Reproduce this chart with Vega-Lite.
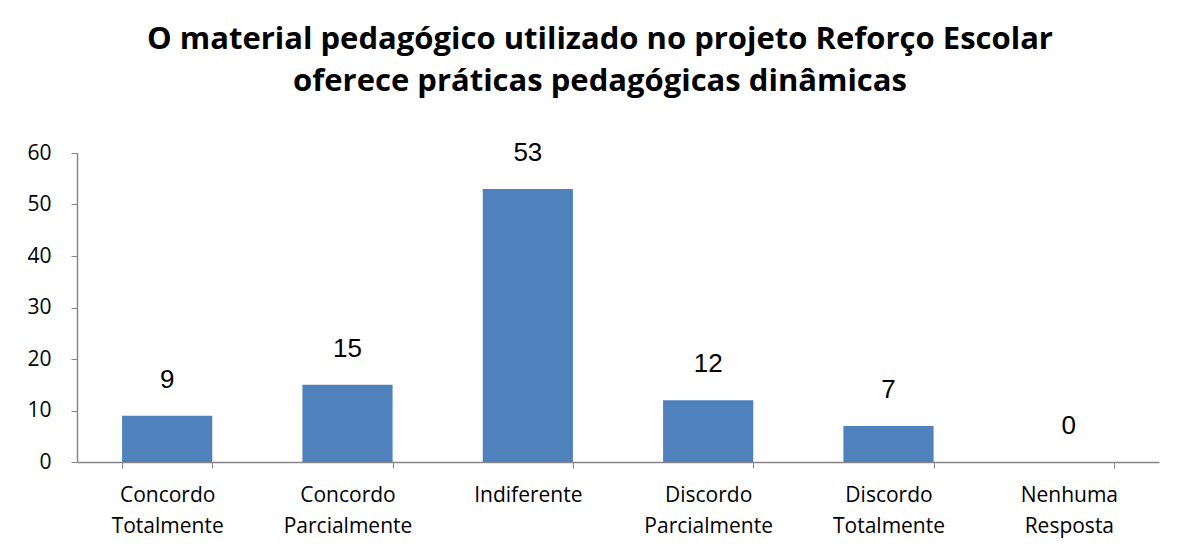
{
  "$schema": "https://vega.github.io/schema/vega-lite/v6.json",
  "width": 1082,
  "height": 309,
  "autosize": {"type": "none"},
  "padding": {"left": 77, "top": 153, "right": 25, "bottom": 93},
  "background": "white",
  "config": {"view": {"stroke": null}},
  "title": {
    "text": ["O material pedagógico utilizado no projeto Reforço Escolar", "oferece práticas pedagógicas dinâmicas"],
    "font": "Open Sans",
    "fontSize": 31,
    "fontWeight": "bold",
    "color": "#000000",
    "anchor": "middle",
    "dx": -18,
    "lineHeight": 42,
    "offset": 42
  },
  "data": {
    "values": [
      {"categoria": "Concordo Totalmente", "valor": 9},
      {"categoria": "Concordo Parcialmente", "valor": 15},
      {"categoria": "Indiferente", "valor": 53},
      {"categoria": "Discordo Parcialmente", "valor": 12},
      {"categoria": "Discordo Totalmente", "valor": 7},
      {"categoria": "Nenhuma Resposta", "valor": 0}
    ]
  },
  "encoding": {
    "x": {
      "field": "categoria",
      "type": "nominal",
      "sort": null,
      "scale": {"paddingInner": 0.5, "paddingOuter": 0.25},
      "axis": {
        "title": null,
        "labelAngle": 0,
        "labelExpr": "split(datum.label, ' ')",
        "labelFont": "Open Sans",
        "labelFontSize": 21,
        "labelColor": "#000000",
        "labelLineHeight": 31,
        "labelPadding": 16,
        "tickBand": "extent",
        "tickSize": 6,
        "tickColor": "#868686",
        "domainColor": "#868686",
        "domainWidth": 1.5
      }
    },
    "y": {
      "field": "valor",
      "type": "quantitative",
      "scale": {"domain": [0, 60]},
      "axis": {
        "title": null,
        "values": [0, 10, 20, 30, 40, 50, 60],
        "grid": false,
        "labelFont": "Open Sans",
        "labelFontSize": 21,
        "labelColor": "#000000",
        "labelPadding": 20,
        "tickSize": 6,
        "tickColor": "#868686",
        "domainColor": "#868686",
        "domainWidth": 1.5
      }
    }
  },
  "layer": [
    {"mark": {"type": "bar", "color": "#4F81BD"}},
    {
      "mark": {"type": "text", "baseline": "bottom", "dy": -23, "font": "Liberation Sans", "fontSize": 26, "color": "#000000"},
      "encoding": {"text": {"field": "valor", "type": "quantitative"}}
    }
  ]
}
